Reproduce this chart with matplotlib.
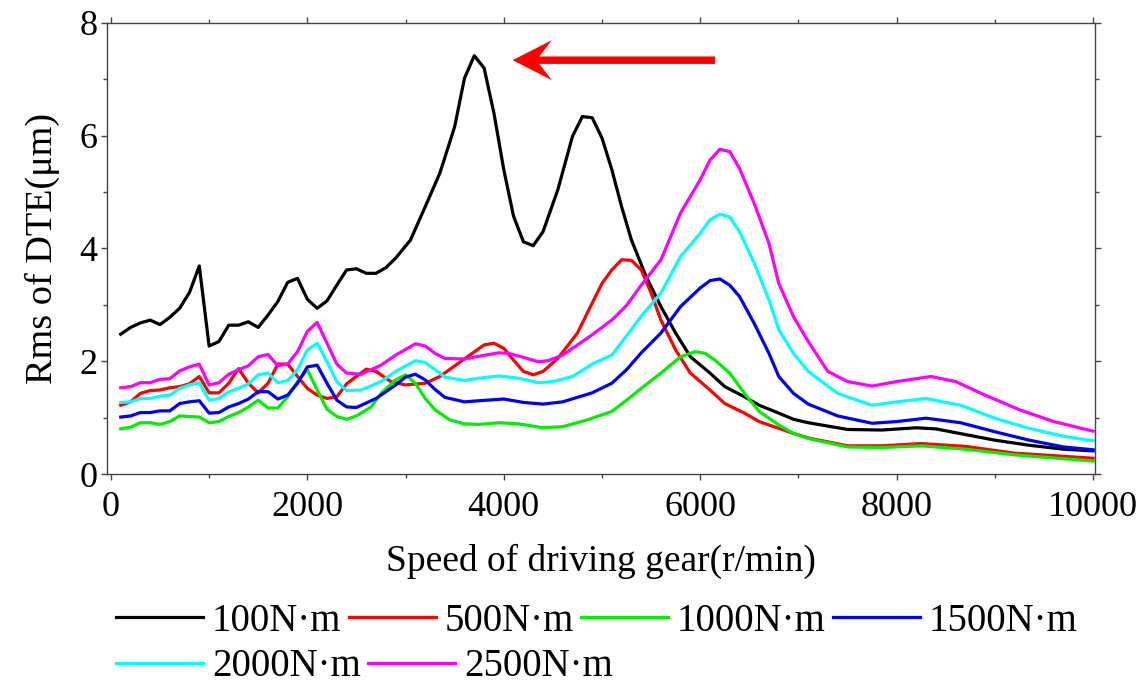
import matplotlib
matplotlib.use("Agg")
import matplotlib.pyplot as plt
from matplotlib.ticker import MultipleLocator
from matplotlib.patches import Polygon

plt.rcParams['font.family'] = ['Liberation Serif', 'DejaVu Serif']

labels = ['100N·m', '500N·m', '1000N·m', '1500N·m', '2000N·m', '2500N·m']
colors = ['#000000', '#ff0000', '#00f000', '#0000ff', '#00ffff', '#ff00ff']

low_speed = [100, 200, 300, 400, 500, 600, 700, 800, 900, 1000, 1100, 1200,
             1300, 1400, 1500, 1600, 1700, 1800, 1900, 2000, 2100, 2200, 2300, 2400]

t100_speed = low_speed + [2500, 2600, 2700, 2800, 2900, 3050, 3200, 3350, 3500, 3600, 3700,
                          3800, 3900, 4000, 4100, 4200, 4300, 4400, 4550, 4700, 4800, 4900,
                          5000, 5100, 5200, 5300, 5450, 5600, 5750, 5900, 6100, 6250, 6450,
                          6600, 6800, 6950, 7100, 7500, 7850, 8200, 8400, 8700, 9000, 9350,
                          9700, 10000]
t100_rms = [2.48, 2.60, 2.68, 2.73, 2.65, 2.78, 2.94, 3.22, 3.69, 2.27, 2.35, 2.64,
            2.64, 2.70, 2.60, 2.82, 3.06, 3.40, 3.47, 3.10, 2.94, 3.07, 3.35, 3.62,
            3.64, 3.56, 3.56, 3.66, 3.83, 4.15, 4.74, 5.34, 6.16, 7.02, 7.42,
            7.20, 6.40, 5.40, 4.57, 4.12, 4.05, 4.30, 5.04, 5.99, 6.34, 6.32,
            5.96, 5.40, 4.74, 4.15, 3.50, 2.97, 2.50, 2.08, 1.79, 1.55, 1.37,
            1.22, 1.08, 0.97, 0.91, 0.79, 0.78, 0.82, 0.80, 0.70, 0.60, 0.51,
            0.44, 0.41]

t500_speed = low_speed + [2600, 2700, 2850, 3000, 3200, 3350, 3550, 3800, 3900, 4000, 4100,
                          4200, 4300, 4400, 4550, 4750, 4900, 5000, 5100, 5200, 5300, 5400,
                          5500, 5600, 5750, 5900, 6100, 6250, 6450, 6600, 6800, 6950, 7100,
                          7500, 7850, 8250, 8700, 9200, 10000]
t500_rms = [1.22, 1.28, 1.43, 1.48, 1.49, 1.53, 1.55, 1.60, 1.73, 1.44, 1.44, 1.61,
            1.87, 1.61, 1.44, 1.61, 1.95, 1.95, 1.73, 1.52, 1.40, 1.34, 1.37, 1.60,
            1.86, 1.82, 1.64, 1.58, 1.61, 1.73, 1.98, 2.29, 2.32, 2.23, 2.02,
            1.82, 1.76, 1.82, 2.05, 2.50, 3.03, 3.38, 3.62, 3.80, 3.79, 3.62,
            3.21, 2.73, 2.20, 1.79, 1.49, 1.25, 1.08, 0.93, 0.81, 0.72, 0.64,
            0.50, 0.50, 0.54, 0.49, 0.37, 0.28]

t1000_speed = low_speed + [2500, 2650, 2750, 2900, 3000, 3100, 3200, 3300, 3450, 3600, 3750,
                           3950, 4150, 4400, 4600, 4850, 5100, 5250, 5400, 5600, 5800, 5950,
                           6050, 6150, 6300, 6450, 6600, 6800, 6950, 7100, 7500, 7850, 8250,
                           8700, 9200, 10000]
t1000_rms = [0.80, 0.83, 0.91, 0.91, 0.88, 0.93, 1.03, 1.02, 1.01, 0.91, 0.93, 1.02,
             1.09, 1.19, 1.31, 1.17, 1.17, 1.37, 1.64, 1.85, 1.49, 1.15, 1.02, 0.97,
             1.03, 1.19, 1.43, 1.67, 1.76, 1.61, 1.34, 1.14, 0.96, 0.89, 0.88,
             0.91, 0.89, 0.82, 0.84, 0.96, 1.11, 1.31, 1.52, 1.79, 2.08, 2.17,
             2.14, 2.02, 1.79, 1.43, 1.11, 0.87, 0.72, 0.63, 0.48, 0.47, 0.50,
             0.44, 0.34, 0.23]

t1500_speed = low_speed + [2500, 2700, 2900, 3000, 3100, 3200, 3300, 3400, 3600, 3750, 4000,
                           4200, 4400, 4600, 4900, 5100, 5250, 5400, 5600, 5800, 6000, 6100,
                           6200, 6300, 6400, 6550, 6700, 6800, 6950, 7100, 7400, 7750, 8000,
                           8300, 8650, 9000, 9350, 9700, 10000]
t1500_rms = [1.01, 1.03, 1.09, 1.09, 1.12, 1.12, 1.25, 1.28, 1.30, 1.08, 1.09, 1.19,
             1.25, 1.33, 1.46, 1.46, 1.33, 1.40, 1.61, 1.90, 1.93, 1.61, 1.31, 1.19,
             1.18, 1.34, 1.58, 1.72, 1.77, 1.67, 1.50, 1.36, 1.28, 1.30, 1.33,
             1.27, 1.24, 1.28, 1.44, 1.61, 1.85, 2.15, 2.50, 2.97, 3.30, 3.43,
             3.46, 3.35, 3.15, 2.67, 2.14, 1.73, 1.43, 1.24, 1.03, 0.90, 0.93,
             0.99, 0.91, 0.75, 0.60, 0.48, 0.43]

t2000_speed = low_speed + [2550, 2750, 2900, 3100, 3200, 3300, 3400, 3600, 3750, 3950, 4150,
                           4350, 4500, 4700, 4900, 5100, 5250, 5400, 5600, 5800, 6000, 6100,
                           6200, 6300, 6400, 6550, 6700, 6800, 6950, 7100, 7400, 7750, 8000,
                           8300, 8650, 9000, 9350, 9700, 10000]
t2000_rms = [1.27, 1.28, 1.34, 1.34, 1.38, 1.40, 1.52, 1.58, 1.62, 1.31, 1.34, 1.46,
             1.52, 1.60, 1.76, 1.79, 1.62, 1.66, 1.85, 2.20, 2.32, 1.99, 1.64, 1.48,
             1.49, 1.64, 1.82, 2.01, 1.98, 1.85, 1.72, 1.66, 1.70, 1.74, 1.70,
             1.62, 1.64, 1.73, 1.95, 2.11, 2.45, 2.80, 3.21, 3.86, 4.27, 4.51,
             4.61, 4.56, 4.30, 3.74, 3.09, 2.56, 2.14, 1.82, 1.43, 1.22, 1.28,
             1.34, 1.22, 0.99, 0.81, 0.67, 0.59]

t2500_speed = low_speed + [2550, 2750, 2900, 3100, 3200, 3300, 3400, 3600, 3750, 3950, 4050,
                           4200, 4350, 4450, 4600, 4750, 4900, 5100, 5250, 5400, 5600, 5800,
                           6000, 6100, 6200, 6300, 6400, 6550, 6700, 6800, 6950, 7100, 7300,
                           7500, 7750, 8000, 8350, 8600, 8900, 9250, 9600, 10000]
t2500_rms = [1.53, 1.55, 1.62, 1.62, 1.68, 1.69, 1.83, 1.90, 1.95, 1.58, 1.62, 1.77,
             1.85, 1.92, 2.08, 2.12, 1.92, 1.95, 2.17, 2.53, 2.69, 2.32, 1.95, 1.79,
             1.77, 1.93, 2.11, 2.31, 2.27, 2.14, 2.05, 2.04, 2.09, 2.15, 2.14,
             2.07, 1.99, 2.01, 2.11, 2.29, 2.47, 2.73, 2.99, 3.35, 3.80, 4.63,
             5.22, 5.57, 5.76, 5.72, 5.42, 4.80, 4.09, 3.38, 2.79, 2.35, 1.82,
             1.64, 1.56, 1.64, 1.73, 1.64, 1.40, 1.14, 0.93, 0.76]

speeds = [t100_speed, t500_speed, t1000_speed, t1500_speed, t2000_speed, t2500_speed]
values = [t100_rms, t500_rms, t1000_rms, t1500_rms, t2000_rms, t2500_rms]

# annotation arrow (pointing toward lower speed)
arrow_tip = (4090, 7.34)
arrow_tail_x = 6150
arrow_head_len, arrow_notch, arrow_half_w, arrow_half_t = 400, 272, 0.355, 0.066

fig = plt.figure(figsize=(11.44, 6.84), dpi=100)
ax = fig.add_axes([0.0935, 0.307, 0.8637, 0.6594])

handles = []
for s, v, c, l in zip(speeds, values, colors, labels):
    h, = ax.plot(s, v, color=c, lw=2.3, label=l)
    handles.append(h)

ax.set_xlim(-40, 10020)
ax.set_ylim(0, 8)
ax.xaxis.set_major_locator(MultipleLocator(2000))
ax.xaxis.set_minor_locator(MultipleLocator(1000))
ax.yaxis.set_major_locator(MultipleLocator(2))
ax.yaxis.set_minor_locator(MultipleLocator(1))

for sp in ax.spines.values():
    sp.set_color('#444444')
    sp.set_linewidth(1.0)

ax.tick_params(which='both', direction='out', top=True, right=True,
               color='#444444', width=1.0, labelsize=26)
ax.tick_params(which='major', length=4.5)
ax.tick_params(which='minor', length=3)
ax.tick_params(axis='x', pad=8)
ax.tick_params(axis='y', pad=2.5)

ax.set_xlabel('Speed of driving gear(r/min)', fontsize=27, labelpad=14)
ax.set_ylabel('Rms of DTE(μm)', fontsize=27.5, labelpad=14)

tx, ty = arrow_tip
arrow_pts = [(tx, ty),
             (tx + arrow_head_len, ty + arrow_half_w),
             (tx + arrow_notch, ty + arrow_half_t),
             (arrow_tail_x, ty + arrow_half_t),
             (arrow_tail_x, ty - arrow_half_t),
             (tx + arrow_notch, ty - arrow_half_t),
             (tx + arrow_head_len, ty - arrow_half_w)]
ax.add_patch(Polygon(arrow_pts, closed=True, facecolor='#ff0000',
                     edgecolor='none', clip_on=False))

leg_kw = dict(loc='center left', frameon=False, fontsize=28, handlelength=2.24,
              handletextpad=0.23, columnspacing=0.18, borderaxespad=0, borderpad=0)
fig.legend(handles[:4], labels[:4], bbox_to_anchor=(0.1014, 0.092), ncol=4, **leg_kw)
fig.legend(handles[4:], labels[4:], bbox_to_anchor=(0.1014, 0.0249), ncol=2, **leg_kw)

fig.savefig('out.png', dpi=100)
